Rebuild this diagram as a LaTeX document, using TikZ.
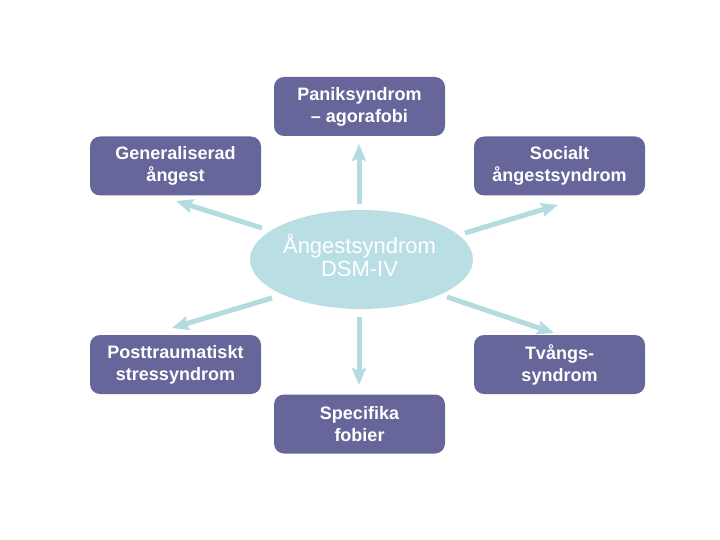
\documentclass[tikz,border=0pt]{standalone}
\usepackage{fontspec}
\setmainfont{Liberation Sans}
\usetikzlibrary{arrows.meta,shapes.geometric}
\definecolor{boxc}{HTML}{66669A}
\definecolor{ellc}{HTML}{B9DFE4}
\definecolor{arrc}{HTML}{B3DBE0}
\tikzset{
  pbox/.style={draw=none, fill=boxc, rounded corners=10pt, minimum width=171pt, minimum height=59pt,
    text=white, align=center, inner sep=0pt, font=\fontsize{18}{22}\selectfont\bfseries},
  cell/.style={ellipse, draw=none, fill=ellc, minimum width=223pt, minimum height=99pt, inner sep=0pt},
  ctext/.style={text=white, align=center, inner sep=0pt, font=\fontsize{22}{23}\selectfont},
  barrow/.style={draw=arrc, line width=5pt, -{Stealth[length=17pt,width=14pt,inset=3pt]}}
}
\begin{document}
\begin{tikzpicture}[x=1pt,y=-1pt]
\useasboundingbox (0,0) rectangle (720,540);
\fill[white] (0,0) rectangle (720,540);
\node[cell] (c) at (361.5,259.5) {};
\node[ctext] (ct) at (359.5,256) {Ångestsyndrom\\DSM-IV};
\node[pbox] (pan) at (359.5,106.5) {Paniksyndrom\\– agorafobi};
\node[pbox] (gen) at (175.5,166) {Generaliserad\\ångest};
\node[pbox] (soc) at (559.5,166) {Socialt\\ångestsyndrom};
\node[pbox] (ptsd) at (175.5,364.5) {Posttraumatiskt\\stressyndrom};
\node[pbox] (tvang) at (559.5,364.5) {Tvångs-\\syndrom};
\node[pbox] (spec) at (359.5,424) {Specifika\\fobier};
\coordinate (tu) at (359,204);   \coordinate (hu) at (359,144);
\coordinate (td) at (359,317);   \coordinate (hd) at (359,385);
\coordinate (tul) at (262,228);  \coordinate (hul) at (176,201);
\coordinate (tur) at (465,233);  \coordinate (hur) at (558,205);
\coordinate (tll) at (272,298);  \coordinate (hll) at (172,328);
\coordinate (tlr) at (447,297);  \coordinate (hlr) at (554,333);
\draw[barrow] (tu) -- (hu);
\draw[barrow] (td) -- (hd);
\draw[barrow] (tul) -- (hul);
\draw[barrow] (tur) -- (hur);
\draw[barrow] (tll) -- (hll);
\draw[barrow] (tlr) -- (hlr);
\end{tikzpicture}
\end{document}
